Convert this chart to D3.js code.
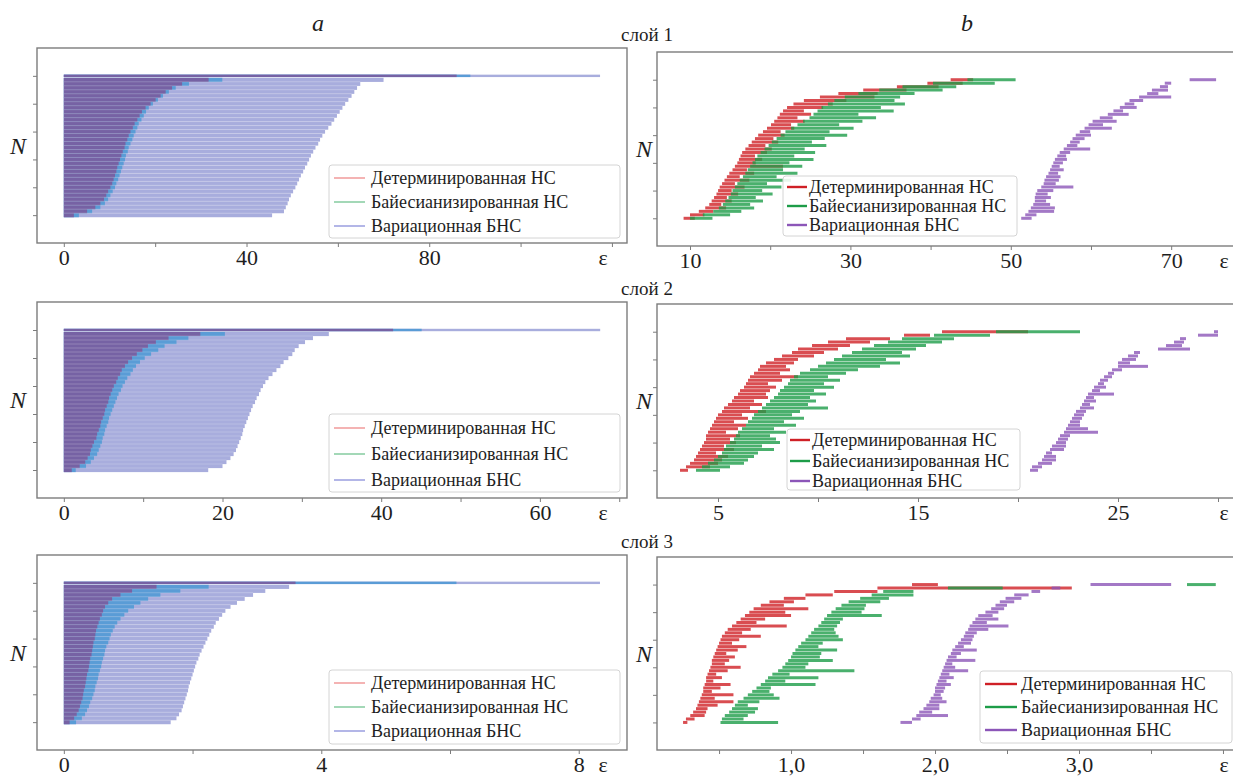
<!DOCTYPE html>
<html><head><meta charset="utf-8">
<script src="https://cdn.jsdelivr.net/npm/d3@7"></script>
<style>
body{margin:0;background:#fff}
svg{display:block}
svg text{font-family:Liberation Serif, DejaVu Serif, serif}
</style>
</head><body>
<svg id="c" width="1233" height="776" font-family="Liberation Serif"></svg>
<script>
// ---------- DATA ----------
const seriesNames = ['Детерминированная НС','Байесианизированная НС','Вариационная БНС'];
const layerTitles = ['слой 1','слой 2','слой 3'];

// panel a: sorted errors per sample (rows bottom -> top)
const a1Det   = [2.2,5.1,6.9,8.0,8.8,9.3,9.7,10.2,10.6,10.9,11.2,11.5,11.7,12.0,12.3,12.6,12.9,13.3,13.5,13.9,14.2,14.6,15.1,15.5,16.1,16.6,17.1,17.9,19.0,20.1,21.2,22.3,23.7,25.9,31.7,86];
const a1Bayes = [3.3,6.2,8.0,9.0,9.7,10.2,10.7,11.2,11.5,11.9,12.2,12.5,12.8,13.1,13.4,13.6,14.0,14.2,14.6,15.0,15.3,15.7,16.1,16.4,17.0,17.5,18.0,18.6,19.5,20.6,21.7,23.0,24.5,27.4,34.7,89];
const a1Var   = [45.6,48.2,48.6,49.0,49.3,49.7,50.2,50.7,51.1,51.5,51.9,52.4,52.8,53.3,53.7,54.1,54.6,55.1,55.7,56.1,56.6,57.2,57.9,58.6,59.2,59.8,60.4,61.0,61.6,62.3,63.0,63.6,64.2,64.9,70,117.4];
const a2Det   = [1.0,2.0,2.7,3.0,3.3,3.4,3.6,3.8,4.1,4.2,4.4,4.6,4.7,4.9,5.1,5.2,5.4,5.6,5.7,5.9,6.1,6.3,6.6,6.8,7.1,7.3,7.7,8.1,8.6,9.2,9.9,10.6,11.6,13.2,17.2,41.5];
const a2Bayes = [1.5,2.8,3.4,3.8,4.2,4.4,4.6,4.8,4.9,5.1,5.2,5.4,5.6,5.7,5.9,6.1,6.3,6.5,6.7,6.9,7.2,7.4,7.7,8.0,8.4,8.7,9.1,9.6,10.2,11.0,11.9,12.7,14.2,15.7,20.3,45.1];
const a2Var   = [18.2,20.0,20.5,21.0,21.4,21.7,21.9,22.1,22.3,22.5,22.6,22.8,23.0,23.2,23.4,23.6,23.8,24.1,24.3,24.6,24.8,25.1,25.4,25.8,26.3,26.8,27.3,27.7,28.3,28.8,29.1,29.6,30.4,31.4,33.4,67.6];
const a3Det   = [0.09,0.16,0.20,0.23,0.25,0.27,0.29,0.30,0.31,0.33,0.34,0.35,0.36,0.38,0.39,0.40,0.41,0.43,0.44,0.45,0.46,0.48,0.49,0.50,0.52,0.54,0.56,0.59,0.61,0.64,0.69,0.75,0.88,1.06,1.44,3.6];
const a3Bayes = [0.19,0.28,0.33,0.36,0.39,0.41,0.44,0.46,0.48,0.49,0.51,0.53,0.54,0.56,0.58,0.59,0.61,0.63,0.64,0.66,0.69,0.71,0.73,0.76,0.79,0.83,0.88,0.94,1.0,1.09,1.19,1.31,1.5,1.81,2.25,6.1];
const a3Var   = [1.66,1.75,1.79,1.83,1.85,1.87,1.89,1.91,1.93,1.94,1.96,1.98,2.0,2.02,2.04,2.06,2.09,2.11,2.14,2.17,2.2,2.23,2.26,2.29,2.33,2.36,2.41,2.46,2.51,2.59,2.69,2.81,2.94,3.13,3.5,8.33];

// panel b: interval per sample (low / high), rows bottom -> top
const b1DetLo   = [9.2,10.0,11.1,11.9,12.4,12.7,13.0,13.3,13.5,13.7,14.0,14.3,14.6,14.9,15.3,15.6,15.9,16.1,16.3,16.5,16.9,17.3,17.7,18.1,18.5,19.1,19.6,20.1,20.5,20.9,21.2,21.6,22.1,22.9,24.2,26.2,28.5,31.6,35.8,39.6,42.5];
const b1DetHi   = [10.6,11.8,12.9,14.5,13.9,15.2,14.6,16.0,15.2,16.8,15.6,17.4,16.2,18.0,17.1,21.6,18.2,19.0,18.1,19.6,20.2,19.4,21.0,20.4,21.8,21.3,23.0,22.6,24.3,23.4,25.1,24.2,26.6,27.8,29.5,33.0,33.4,37.0,41.0,44.0,45.3];
const b1BayesLo = [10.0,11.6,12.9,13.6,14.1,14.4,14.8,15.1,15.3,15.6,15.9,16.2,16.6,16.9,17.2,17.5,17.8,18.1,18.4,18.8,19.3,19.8,20.2,20.8,21.3,21.9,22.6,23.4,24.1,24.9,25.4,25.9,26.4,27.2,28.0,29.3,31.0,33.6,36.5,40.3,44.6];
const b1BayesHi = [12.8,15.0,16.4,18.0,17.5,19.1,18.2,20.3,19.0,21.4,19.6,22.6,20.8,23.4,21.6,24.0,22.4,25.4,23.0,25.6,24.3,27.0,25.2,26.8,29.6,27.4,30.4,28.6,31.5,33.2,31.0,35.4,33.8,36.8,35.5,36.2,38.0,41.5,43.2,48.0,50.6];
const b1VarLo   = [51.3,51.8,52.2,52.5,52.8,53.0,53.0,53.1,53.3,53.8,54.1,54.2,54.4,54.7,54.9,55.1,55.3,55.5,55.8,56.1,56.6,57.0,57.4,57.7,58.1,58.6,59.2,59.7,60.2,61.1,62.1,62.8,63.6,64.2,64.8,66.0,67.0,67.6,68.6,69.2,72.3];
const b1VarHi   = [52.6,53.2,55.4,55.5,54.9,54.4,55.0,54.6,55.3,57.8,55.6,56.0,56.2,55.9,56.6,56.1,56.5,57.0,56.9,57.4,59.9,58.3,58.6,59.2,60.0,59.9,62.6,61.5,63.2,62.7,64.7,64.0,65.7,65.4,66.5,70.0,68.4,69.6,69.6,70.0,75.6];

const b2DetLo   = [3.1,3.4,3.6,3.8,3.9,4.0,4.1,4.2,4.3,4.4,4.4,4.5,4.6,4.7,4.8,4.9,5.0,5.2,5.3,5.5,5.7,5.8,6.0,6.1,6.3,6.4,6.5,6.6,6.8,7.0,7.1,7.4,7.8,8.2,8.7,9.0,9.7,10.5,11.4,14.3,16.2];
const b2DetHi   = [3.5,4.6,5.0,5.2,5.5,4.9,5.8,5.3,5.9,5.6,6.1,5.4,6.0,6.4,5.8,6.5,6.2,7.4,6.6,7.2,6.8,7.5,7.4,7.6,7.9,7.5,8.2,9.0,8.1,8.6,8.4,8.8,9.0,9.8,10.3,11.0,11.6,12.6,13.6,15.6,20.5];
const b2BayesLo = [3.9,4.2,4.5,4.8,5.0,5.2,5.3,5.4,5.6,5.8,5.9,6.0,6.2,6.4,6.5,6.7,6.8,7.0,7.2,7.4,7.6,7.8,8.0,8.1,8.3,8.5,8.6,8.8,9.1,9.6,10.0,10.4,10.8,11.2,11.7,12.2,12.8,13.5,14.2,15.8,18.9];
const b2BayesHi = [5.1,5.6,6.3,6.5,6.8,7.0,7.8,7.2,8.1,7.9,7.6,8.4,7.8,8.9,8.3,9.3,8.7,9.1,10.5,9.5,9.9,9.6,10.4,9.8,10.8,10.3,11.1,10.5,11.4,12.0,13.1,14.1,13.4,14.6,14.2,14.9,15.4,16.2,16.8,18.6,23.1];
const b2VarLo   = [20.6,20.7,21.0,21.2,21.3,21.4,21.6,21.7,21.9,22.0,22.1,22.3,22.4,22.5,22.6,22.7,22.8,22.9,23.1,23.2,23.3,23.4,23.5,23.7,23.8,24.0,24.1,24.3,24.5,24.7,25.0,25.0,25.2,25.5,25.8,27.0,27.4,27.8,28.1,29.0,29.8];
const b2VarHi   = [21.0,21.2,21.7,21.9,21.9,21.7,22.3,22.4,22.4,22.5,22.6,24.0,23.5,23.1,23.1,23.2,23.3,23.4,23.8,23.6,23.9,23.8,24.8,24.1,24.4,24.3,24.5,24.7,24.8,25.2,26.5,25.6,25.9,26.0,26.1,28.6,28.2,28.3,28.4,30.0,30.0];

const b3DetLo   = [0.25,0.27,0.30,0.32,0.34,0.35,0.36,0.37,0.38,0.39,0.39,0.40,0.41,0.41,0.42,0.43,0.44,0.45,0.45,0.46,0.47,0.48,0.49,0.50,0.51,0.52,0.54,0.56,0.59,0.62,0.65,0.68,0.71,0.74,0.79,0.85,0.95,1.10,1.30,1.60,1.84];
const b3DetHi   = [0.28,0.33,0.40,0.41,0.42,0.49,0.60,0.47,0.60,0.45,0.51,0.58,0.46,0.52,0.48,0.56,0.65,0.54,0.57,0.61,0.55,0.63,0.69,0.59,0.64,0.79,0.66,0.72,0.97,0.76,0.82,1.00,0.96,1.12,0.95,1.02,1.10,1.29,1.60,2.95,2.02];
const b3BayesLo = [0.51,0.52,0.54,0.57,0.59,0.61,0.63,0.67,0.70,0.73,0.76,0.79,0.82,0.84,0.87,0.91,0.94,0.96,0.98,1.00,1.01,1.03,1.05,1.07,1.10,1.12,1.14,1.16,1.19,1.21,1.23,1.25,1.28,1.31,1.35,1.40,1.48,1.56,1.64,2.09,3.75];
const b3BayesHi = [0.91,0.67,0.70,0.75,0.77,0.70,0.78,0.92,0.88,0.85,0.86,1.17,0.96,1.19,0.99,1.44,1.10,1.12,1.29,1.20,1.21,1.32,1.19,1.22,1.36,1.33,1.31,1.30,1.32,1.34,1.36,1.63,1.49,1.51,1.52,1.62,1.68,1.85,1.85,2.47,3.95];
const b3VarLo   = [1.76,1.84,1.87,1.89,1.92,1.94,1.96,1.97,1.99,2.00,2.00,2.01,2.02,2.03,2.04,2.05,2.06,2.07,2.08,2.09,2.11,2.12,2.14,2.16,2.18,2.20,2.21,2.23,2.24,2.26,2.28,2.30,2.35,2.39,2.42,2.45,2.49,2.55,2.67,2.81,3.08];
const b3VarHi   = [1.84,1.90,2.09,1.98,2.03,2.03,2.08,2.05,2.04,2.06,2.07,2.11,2.08,2.13,2.10,2.23,2.14,2.12,2.28,2.15,2.18,2.29,2.20,2.25,2.26,2.27,2.29,2.37,2.51,2.36,2.44,2.40,2.44,2.48,2.50,2.55,2.60,2.65,2.73,2.87,3.64];

// ticks
const a1Ticks=[0,20,40,60,80,100,120], a1TickLabels=['0','','40','','80','',''];
const a2Ticks=[0,10,20,30,40,50,60,70], a2TickLabels=['0','','20','','40','','60',''];
const a3Ticks=[0,2,4,6,8], a3TickLabels=['0','','4','','8'];
const b1Ticks=[10,20,30,40,50,60,70], b1TickLabels=['10','','30','','50','','70'];
const b2Ticks=[5,10,15,20,25,30], b2TickLabels=['5','','15','','25',''];
const b3Ticks=[0.5,1,1.5,2,2.5,3,3.5,4], b3TickLabels=['','1,0','','2,0','','3,0','',''];
const yTicks=[0,20,40,60,80,100];

// ---------- STYLE / LAYOUT ----------
const FONT="Liberation Serif";
const frameCol='#7c7c7c', textCol='#1e1e1e';
const aCols=['#7662a4','#5a9cd6','#a8addd'];
const aLegCols=['#f2a0a0','#8ccfa6','#a0a4e2'];
const bCols=['#cf2026','#1d9c48','#8c56b8'];
const rowsA=d3.range(36).map(k=>k*100/35);
const rowsB=d3.range(41).map(k=>k*100/40);

const svg=d3.select('#c');

const panelsA=[
 {y0:48,y1:243,dom:[-5.87,123.3],ticks:a1Ticks,lab:a1TickLabels,data:[a1Det,a1Bayes,a1Var],leg:{x:329,y:165,w:291,h:73,rows:[13,37,61]}},
 {y0:302,y1:498,dom:[-3.38,70.98],ticks:a2Ticks,lab:a2TickLabels,data:[a2Det,a2Bayes,a2Var],leg:{x:329,y:414,w:291,h:78,rows:[14,40,66]}},
 {y0:555,y1:750,dom:[-0.417,8.75],ticks:a3Ticks,lab:a3TickLabels,data:[a3Det,a3Bayes,a3Var],leg:{x:329,y:670,w:291,h:74,rows:[13,37,61]}}
];
const panelsB=[
 {y0:52,y1:246,dom:[5.885,79.08],ticks:b1Ticks,lab:b1TickLabels,data:[[b1DetLo,b1DetHi],[b1BayesLo,b1BayesHi],[b1VarLo,b1VarHi]],leg:{x:783,y:176,w:234,h:60,rows:[11,30,49],line:[4,24],tx:26}},
 {y0:304,y1:498,dom:[1.95,31.3],ticks:b2Ticks,lab:b2TickLabels,data:[[b2DetLo,b2DetHi],[b2BayesLo,b2BayesHi],[b2VarLo,b2VarHi]],leg:{x:787,y:429,w:233,h:61,rows:[11,32,52],line:[3,23],tx:25}},
 {y0:557,y1:750,dom:[0.069,4.146],ticks:b3Ticks,lab:b3TickLabels,data:[[b3DetLo,b3DetHi],[b3BayesLo,b3BayesHi],[b3VarLo,b3VarHi]],leg:{x:980,y:671,w:252,h:72,rows:[13,36,59],line:[5,37],tx:41}}
];

function txt(sel){return sel.attr('font-family',FONT).attr('fill',textCol);}

function axes(g,xs,ys,p,x0,x1){
  g.append('rect').attr('x',x0).attr('y',p.y0).attr('width',x1-x0).attr('height',p.y1-p.y0)
    .attr('fill','none').attr('stroke',frameCol).attr('stroke-width',1.4);
  const ax=g.append('g').attr('transform',`translate(0,${p.y1})`)
    .call(d3.axisBottom(xs).tickValues(p.ticks).tickFormat((d,i)=>p.lab[i]).tickSize(4).tickPadding(2));
  ax.attr('font-family',FONT).attr('font-size',22);
  ax.select('.domain').remove();
  ax.selectAll('line').attr('stroke',frameCol);
  txt(ax.selectAll('text')).attr('font-size',22);
  const ay=g.append('g').attr('transform',`translate(${x0},0)`)
    .call(d3.axisLeft(ys).tickValues(yTicks).tickFormat('').tickSize(4));
  ay.select('.domain').remove();
  ay.selectAll('line').attr('stroke',frameCol);
}

function legend(g,L,cols,lineX,tx,lw,fs){
  const lg=g.append('g').attr('transform',`translate(${L.x},${L.y})`);
  lg.append('rect').attr('width',L.w).attr('height',L.h).attr('rx',3)
    .attr('fill','#fff').attr('fill-opacity',0.88).attr('stroke','#d4d4d4').attr('stroke-width',1);
  seriesNames.forEach((s,i)=>{
    lg.append('line').attr('x1',lineX[0]).attr('x2',lineX[1]).attr('y1',L.rows[i]).attr('y2',L.rows[i])
      .attr('stroke',cols[i]).attr('stroke-width',lw);
    txt(lg.append('text')).attr('x',tx).attr('y',L.rows[i]).attr('dy','0.35em')
      .attr('font-size',fs).text(s);
  });
}

panelsA.forEach(p=>{
  const x0=37,x1=627;
  const g=svg.append('g');
  const xs=d3.scaleLinear().domain(p.dom).range([x0,x1]);
  const ys=d3.scaleLinear().domain([-20,120]).range([p.y1,p.y0]);
  const step=Math.abs(ys(rowsA[1])-ys(rowsA[0]));
  [2,1,0].forEach(si=>{
    g.append('g').selectAll('rect').data(p.data[si]).join('rect')
      .attr('x',xs(0)).attr('y',(d,i)=>ys(rowsA[i])-(i===35?1.2:step/2))
      .attr('width',d=>xs(d)-xs(0)).attr('height',(d,i)=>i===35?2.4:step+0.1).attr('fill',aCols[si]);
  });
  const v=p.data[2];
  g.append('g').selectAll('line').data(d3.range(34)).join('line')
    .attr('x1',xs(0)).attr('x2',k=>xs(Math.min(v[k],v[k+1])))
    .attr('y1',k=>ys(rowsA[k])-step/2).attr('y2',k=>ys(rowsA[k])-step/2)
    .attr('stroke','#fff').attr('stroke-opacity',0.3).attr('stroke-width',0.7);
  axes(g,xs,ys,p,x0,x1);
  legend(g,p.leg,aLegCols,[5,36],42,1.6,18);
  txt(g.append('text')).attr('x',603).attr('y',p.y1+22).attr('text-anchor','middle').attr('font-size',22).text('ε');
  txt(g.append('text')).attr('x',18).attr('y',(p.y0+p.y1)/2+8).attr('text-anchor','middle').attr('font-size',24).attr('font-style','italic').text('N');
});

panelsB.forEach(p=>{
  const x0=657,x1=1244;
  const g=svg.append('g');
  const xs=d3.scaleLinear().domain(p.dom).range([x0,x1]);
  const ys=d3.scaleLinear().domain([-20,120]).range([p.y1,p.y0]);
  p.data.forEach((ser,si)=>{
    g.append('g').selectAll('line').data(ser[0]).join('line')
      .attr('x1',d=>xs(d)).attr('x2',(d,i)=>xs(ser[1][i]))
      .attr('y1',(d,i)=>ys(rowsB[i])).attr('y2',(d,i)=>ys(rowsB[i]))
      .attr('stroke',bCols[si]).attr('stroke-width',3).attr('stroke-opacity',0.8);
  });
  axes(g,xs,ys,p,x0,x1);
  legend(g,p.leg,bCols,p.leg.line,p.leg.tx,2.4,18);
  txt(g.append('text')).attr('x',1224).attr('y',p.y1+22).attr('text-anchor','middle').attr('font-size',22).text('ε');
  txt(g.append('text')).attr('x',644).attr('y',(p.y0+p.y1)/2+8).attr('text-anchor','middle').attr('font-size',24).attr('font-style','italic').text('N');
});

// titles
txt(svg.append('text')).attr('x',318).attr('y',31).attr('text-anchor','middle').attr('font-size',24).attr('font-style','italic').text('a');
txt(svg.append('text')).attr('x',967).attr('y',31).attr('text-anchor','middle').attr('font-size',24).attr('font-style','italic').text('b');
[41,295,548].forEach((y,i)=>{
  txt(svg.append('text')).attr('x',647).attr('y',y).attr('text-anchor','middle').attr('font-size',19).text(layerTitles[i]);
});
</script>
</body></html>
